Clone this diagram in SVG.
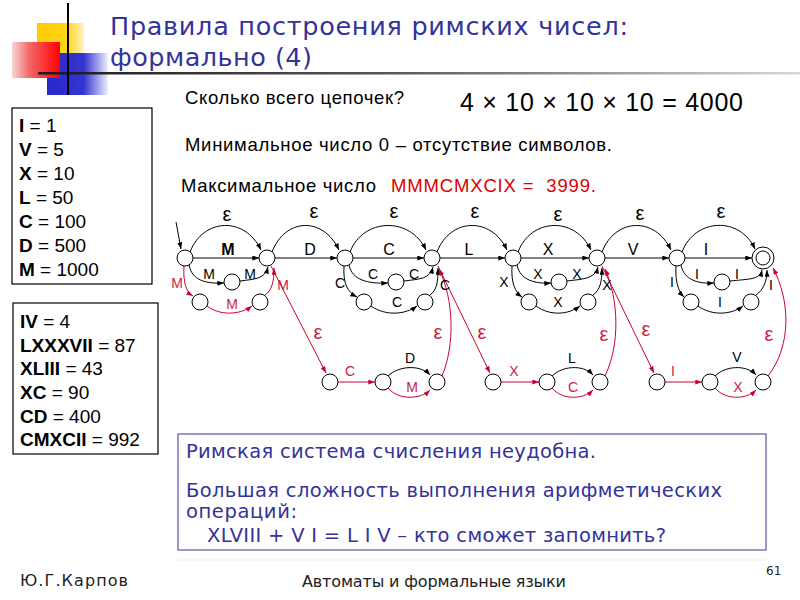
<svg xmlns="http://www.w3.org/2000/svg" width="800" height="600" viewBox="0 0 800 600">
<defs>
<style>
.t{font-family:'Liberation Sans',Arial,sans-serif;fill:#000}
.title{font-family:'DejaVu Sans','Liberation Sans',sans-serif;font-size:25.5px;fill:#333399}
.box{fill:#fff;stroke:#000;stroke-width:1.2}
.n{fill:#fff;stroke:#000;stroke-width:1}
.e{fill:none;stroke:#000;stroke-width:1;marker-end:url(#ab)}
.r{fill:none;stroke:#cc0033;stroke-width:1;marker-end:url(#ar)}
.lb{font-family:'Liberation Sans',Arial,sans-serif;font-size:14px;fill:#000;text-anchor:middle}
.lr{font-family:'Liberation Sans',Arial,sans-serif;font-size:14px;fill:#cc2244;text-anchor:middle}
.ml{font-family:'Liberation Sans',Arial,sans-serif;font-size:16px;fill:#000;text-anchor:middle}
.ep{font-family:'Liberation Sans',Arial,sans-serif;font-size:20px;fill:#000;text-anchor:middle}
.epr{font-family:'Liberation Sans',Arial,sans-serif;font-size:20px;fill:#cc2244;text-anchor:middle}
.bx{font-family:'Liberation Sans',Arial,sans-serif;font-size:19px;fill:#000}
.bl{font-family:'DejaVu Sans','Liberation Sans',sans-serif;font-size:19.5px;fill:#333399}
.ft{font-family:'DejaVu Sans','Liberation Sans',sans-serif;font-size:16px;fill:#222}
</style>
<linearGradient id="gy" x1="0" y1="0" x2="1" y2="0"><stop offset="0" stop-color="#ffcc00"/><stop offset="0.65" stop-color="#ffd31f"/><stop offset="1" stop-color="#fff4c4"/></linearGradient>
<linearGradient id="gr" x1="0" y1="0" x2="1" y2="0"><stop offset="0" stop-color="#fad6d6"/><stop offset="0.35" stop-color="#f46a6a"/><stop offset="1" stop-color="#ff0000"/></linearGradient>
<linearGradient id="gb" x1="0" y1="0" x2="1" y2="0"><stop offset="0" stop-color="#2828cc"/><stop offset="0.6" stop-color="#3434d0"/><stop offset="1" stop-color="#eeeeff"/></linearGradient>
<linearGradient id="gl" x1="0" y1="0" x2="1" y2="0"><stop offset="0" stop-color="#1a1a1a"/><stop offset="0.45" stop-color="#555"/><stop offset="1" stop-color="#d8d8d8"/></linearGradient>
<marker id="ab" viewBox="0 0 8 6" refX="8" refY="3" markerWidth="7" markerHeight="5" markerUnits="userSpaceOnUse" orient="auto"><path d="M0,0 L8,3 L0,6 z" fill="#000"/></marker>
<marker id="ar" viewBox="0 0 8 6" refX="8" refY="3" markerWidth="7" markerHeight="5" markerUnits="userSpaceOnUse" orient="auto"><path d="M0,0 L8,3 L0,6 z" fill="#cc0033"/></marker>
</defs>
<rect width="800" height="600" fill="#fff"/>

<g id="decor">
<rect x="37" y="23" width="47" height="35" fill="url(#gy)"/>
<rect x="47" y="53" width="61" height="42" fill="url(#gb)"/>
<rect x="12" y="42" width="48" height="36" fill="url(#gr)"/>
<rect x="38" y="72" width="762" height="2.5" fill="url(#gl)"/>
<line x1="68" y1="3" x2="68" y2="95" stroke="#000" stroke-width="2"/>
</g>

<g id="title">
<text class="title" x="110" y="35" textLength="518">Правила построения римских чисел:</text>
<text class="title" x="110" y="66" textLength="202">формально (4)</text>
</g>

<g id="texts">
<text class="t" x="185" y="104" font-size="18.5" textLength="219">Сколько всего цепочек?</text>
<text class="t" x="460" y="111" font-size="25" textLength="283">4 × 10 × 10 × 10 = 4000</text>
<text class="t" x="185" y="151" font-size="18.5" textLength="427">Минимальное число 0 – отсутствие символов.</text>
<text class="t" x="181" y="192" font-size="18.5" textLength="195">Максимальное число</text>
<text class="t" x="391" y="192" font-size="18.5" style="fill:#dd0000" textLength="205" xml:space="preserve">MMMCMXCIX =  3999.</text>
</g>

<g id="box-values">
<rect class="box" x="12" y="108" width="140" height="176"/>
<text class="bx" x="19" y="132"><tspan font-weight="bold">I</tspan> = 1</text>
<text class="bx" x="19" y="156"><tspan font-weight="bold">V</tspan> = 5</text>
<text class="bx" x="19" y="180"><tspan font-weight="bold">X</tspan> = 10</text>
<text class="bx" x="19" y="204"><tspan font-weight="bold">L</tspan> = 50</text>
<text class="bx" x="19" y="228"><tspan font-weight="bold">C</tspan> = 100</text>
<text class="bx" x="19" y="252"><tspan font-weight="bold">D</tspan> = 500</text>
<text class="bx" x="19" y="276"><tspan font-weight="bold">M</tspan> = 1000</text>
</g>

<g id="box-examples">
<rect class="box" x="13" y="303" width="145" height="151"/>
<text class="bx" x="20" y="328"><tspan font-weight="bold">IV</tspan> = 4</text>
<text class="bx" x="20" y="351.5"><tspan font-weight="bold">LXXXVII</tspan> = 87</text>
<text class="bx" x="20" y="375"><tspan font-weight="bold">XLIII</tspan> = 43</text>
<text class="bx" x="20" y="399"><tspan font-weight="bold">XC</tspan> = 90</text>
<text class="bx" x="20" y="422.5"><tspan font-weight="bold">CD</tspan> = 400</text>
<text class="bx" x="20" y="446"><tspan font-weight="bold">CMXCII</tspan> = 992</text>
</g>

<g id="connectors">
<path class="e" d="M176,222 L181,249"/>
<path class="e" d="M190,252 C203,218 245,216 261,250"/>
<path class="e" d="M272,252 C285,218 323,216 339,250"/>
<path class="e" d="M350,252 C363,218 410,216 426,250"/>
<path class="e" d="M437,252 C450,218 491,216 507,250"/>
<path class="e" d="M518,252 C531,218 575,216 591,250"/>
<path class="e" d="M602,252 C615,218 655,216 671,250"/>
<path class="e" d="M682,252 C695,218 740,216 755,249"/>
<path class="e" d="M193,258 L259,258"/>
<path class="e" d="M275,258 L337,258"/>
<path class="e" d="M353,258 L424,258"/>
<path class="e" d="M440,258 L505,258"/>
<path class="e" d="M521,258 L589,258"/>
<path class="e" d="M605,258 L669,258"/>
<path class="e" d="M685,258 L752,258"/>
<path class="e" d="M189,265 C192,280 205,284 224,283"/>
<path class="e" d="M240,281 C255,279 265,279 268,267"/>
<path class="r" d="M184,266 C183,282 186,292 193,296"/>
<path class="r" d="M207,306 C220,316 240,315 252,306"/>
<path class="r" d="M265,295 C272,290 274,282 274,268"/>
<path class="e" d="M349,265 C352,280 368,284 388,283"/>
<path class="e" d="M404,281 C420,279 430,279 433,267"/>
<path class="e" d="M344,266 C343,283 347,292 357,297"/>
<path class="e" d="M371,306 C385,316 405,315 417,306"/>
<path class="e" d="M430,295 C437,290 438,282 438,268"/>
<path class="e" d="M517,265 C520,280 535,284 551,283"/>
<path class="e" d="M567,281 C583,279 595,279 598,267"/>
<path class="e" d="M512,266 C511,283 515,292 522,297"/>
<path class="e" d="M536,306 C550,316 568,315 580,306"/>
<path class="e" d="M593,295 C600,290 602,282 602,268"/>
<path class="e" d="M681,265 C684,280 698,284 714,283"/>
<path class="e" d="M730,281 C748,279 760,280 762,270"/>
<path class="e" d="M676,266 C675,283 679,292 684,297"/>
<path class="e" d="M698,306 C712,316 731,315 743,306"/>
<path class="e" d="M756,295 C763,290 767,282 767,270"/>
<path class="r" d="M271,266 L326,373"/>
<path class="r" d="M338,382 L375,382"/>
<path class="e" d="M388,376 C398,366 420,364 430,375"/>
<path class="r" d="M388,388 C398,400 420,400 430,390"/>
<path class="r" d="M442,376 C455,345 454,300 439,269"/>
<path class="r" d="M438,266 L490,373"/>
<path class="r" d="M501,382 L539,382"/>
<path class="e" d="M552,376 C562,366 583,364 593,375"/>
<path class="r" d="M552,388 C562,400 583,400 593,390"/>
<path class="r" d="M605,376 C620,345 619,300 605,269"/>
<path class="r" d="M602,266 L654,373"/>
<path class="r" d="M665,382 L702,382"/>
<path class="e" d="M715,376 C725,366 746,364 756,375"/>
<path class="r" d="M715,388 C725,400 746,400 756,390"/>
<path class="r" d="M768,376 C792,345 790,300 773,268"/>
<text class="ep" x="227" y="221">ε</text>
<text class="ep" x="314" y="218">ε</text>
<text class="ep" x="394" y="218">ε</text>
<text class="ep" x="475" y="218">ε</text>
<text class="ep" x="558" y="221">ε</text>
<text class="ep" x="640" y="220">ε</text>
<text class="ep" x="721" y="218">ε</text>
<text class="ml" x="228" y="255" font-weight="bold">M</text>
<text class="ml" x="310" y="255">D</text>
<text class="ml" x="389" y="255">C</text>
<text class="ml" x="469" y="255">L</text>
<text class="ml" x="548" y="255">X</text>
<text class="ml" x="633" y="255">V</text>
<text class="ml" x="706" y="255">I</text>
<text class="lb" x="209" y="279">M</text>
<text class="lb" x="250" y="279">M</text>
<text class="lr" x="177" y="288">M</text>
<text class="lr" x="232" y="309">M</text>
<text class="lr" x="283" y="290">M</text>
<text class="lb" x="373" y="279">C</text>
<text class="lb" x="414" y="279">C</text>
<text class="lb" x="340" y="288">C</text>
<text class="lb" x="397" y="307">C</text>
<text class="lb" x="445" y="290">C</text>
<text class="lb" x="538" y="279">X</text>
<text class="lb" x="577" y="279">X</text>
<text class="lb" x="504" y="287">X</text>
<text class="lb" x="558" y="307">X</text>
<text class="lb" x="607" y="290">X</text>
<text class="lb" x="697" y="279">I</text>
<text class="lb" x="737" y="279">I</text>
<text class="lb" x="672" y="287">I</text>
<text class="lb" x="720" y="307">I</text>
<text class="lb" x="771" y="290">I</text>
<text class="epr" x="318" y="339">ε</text>
<text class="epr" x="438" y="339">ε</text>
<text class="epr" x="482" y="339">ε</text>
<text class="epr" x="604" y="341">ε</text>
<text class="epr" x="646" y="336">ε</text>
<text class="epr" x="769" y="341">ε</text>
<text class="lr" x="350" y="376">C</text>
<text class="lb" x="410" y="363">D</text>
<text class="lr" x="412" y="392">M</text>
<text class="lr" x="514" y="376">X</text>
<text class="lb" x="572" y="363">L</text>
<text class="lr" x="573" y="392">C</text>
<text class="lr" x="673" y="376">I</text>
<text class="lb" x="737" y="362">V</text>
<text class="lr" x="738" y="392">X</text>
</g>

<g id="q0"><circle class="n" cx="185" cy="258" r="8"/></g>
<g id="q1"><circle class="n" cx="267" cy="258" r="8"/></g>
<g id="q2"><circle class="n" cx="345" cy="258" r="8"/></g>
<g id="q3"><circle class="n" cx="432" cy="258" r="8"/></g>
<g id="q4"><circle class="n" cx="513" cy="258" r="8"/></g>
<g id="q5"><circle class="n" cx="597" cy="258" r="8"/></g>
<g id="q6"><circle class="n" cx="677" cy="258" r="8"/></g>
<g id="q7"><circle class="n" cx="763" cy="258" r="11"/><circle class="n" cx="763" cy="258" r="7"/></g>
<g id="mU"><circle class="n" cx="232" cy="282" r="8"/></g>
<g id="mL1"><circle class="n" cx="200" cy="302" r="8"/></g>
<g id="mL2"><circle class="n" cx="260" cy="302" r="8"/></g>
<g id="cU"><circle class="n" cx="396" cy="282" r="8"/></g>
<g id="cL1"><circle class="n" cx="364" cy="302" r="8"/></g>
<g id="cL2"><circle class="n" cx="425" cy="302" r="8"/></g>
<g id="xU"><circle class="n" cx="559" cy="282" r="8"/></g>
<g id="xL1"><circle class="n" cx="529" cy="302" r="8"/></g>
<g id="xL2"><circle class="n" cx="588" cy="302" r="8"/></g>
<g id="iU"><circle class="n" cx="722" cy="282" r="8"/></g>
<g id="iL1"><circle class="n" cx="691" cy="302" r="8"/></g>
<g id="iL2"><circle class="n" cx="751" cy="302" r="8"/></g>
<g id="a1"><circle class="n" cx="330" cy="382" r="8"/></g>
<g id="b1"><circle class="n" cx="383" cy="382" r="8"/></g>
<g id="c1"><circle class="n" cx="437" cy="382" r="8"/></g>
<g id="a2"><circle class="n" cx="493" cy="382" r="8"/></g>
<g id="b2"><circle class="n" cx="547" cy="382" r="8"/></g>
<g id="c2"><circle class="n" cx="600" cy="382" r="8"/></g>
<g id="a3"><circle class="n" cx="657" cy="382" r="8"/></g>
<g id="b3"><circle class="n" cx="710" cy="382" r="8"/></g>
<g id="c3"><circle class="n" cx="763" cy="382" r="8"/></g>

<g id="note">
<rect x="178" y="434" width="588" height="116" fill="#fff" stroke="#5555aa" stroke-width="1.2"/>
<text class="bl" x="186" y="458" textLength="410">Римская система счисления неудобна.</text>
<text class="bl" x="186" y="497" textLength="536">Большая сложность выполнения арифметических</text>
<text class="bl" x="186" y="518" textLength="111">операций:</text>
<text class="bl" x="207" y="542" textLength="459">XLVIII + V I = L I V – кто сможет запомнить?</text>
</g>

<g id="footer">
<line x1="178" y1="560" x2="766" y2="560" stroke="#eeeeee" stroke-width="1"/>
<text class="ft" x="20" y="586" textLength="108">Ю.Г.Карпов</text>
<text class="ft" x="302" y="587" textLength="264">Автоматы и формальные языки</text>
<text class="ft" x="766" y="575" style="font-size:12px">61</text>
</g>
</svg>
